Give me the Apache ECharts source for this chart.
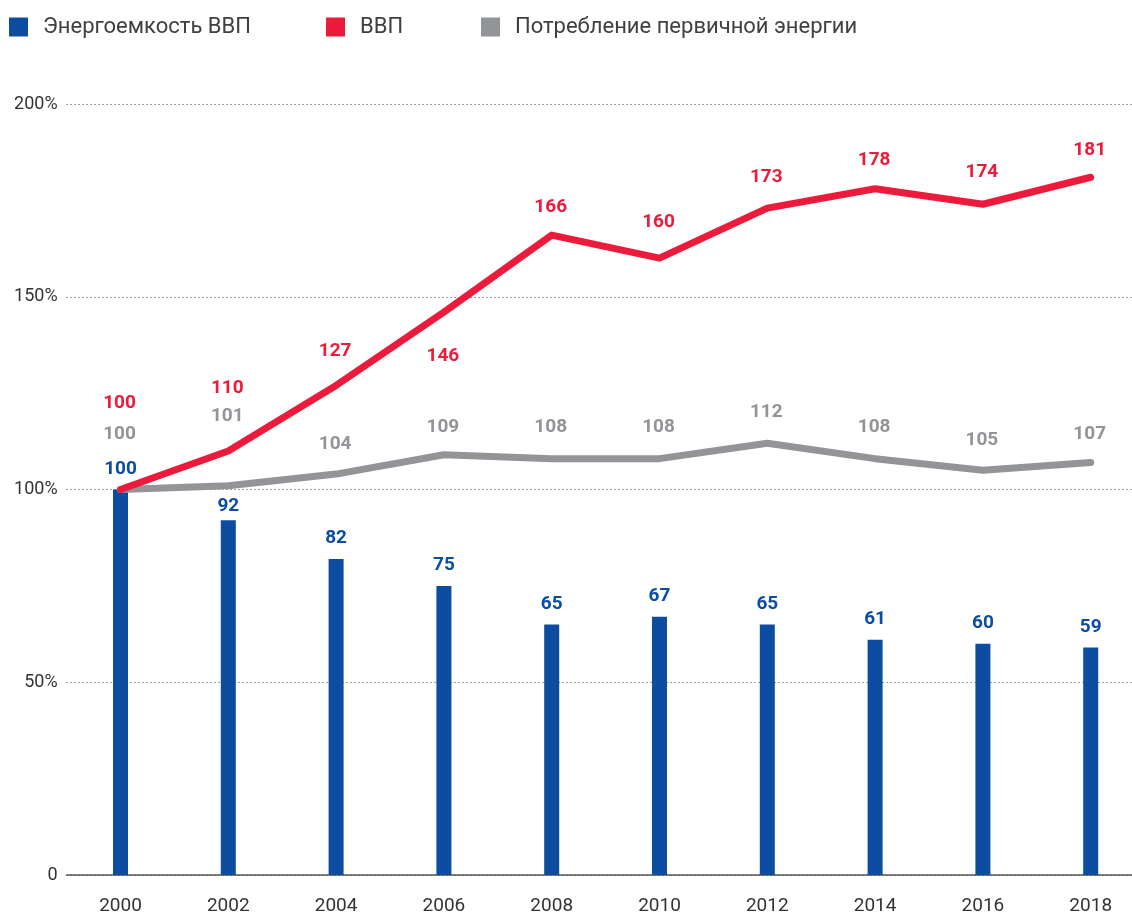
<!DOCTYPE html>
<html>
<head>
<meta charset="utf-8">
<script src="https://cdn.jsdelivr.net/npm/echarts@6/dist/echarts.min.js"></script>
<style>
  html, body { margin: 0; padding: 0; background: #fff; }
  #chart { width: 1132px; height: 913px; }
</style>
</head>
<body>
<div id="chart"></div>
<script>
// данные
var years = ['2000', '2002', '2004', '2006', '2008', '2010', '2012', '2014', '2016', '2018']
var intensity = [100, 92, 82, 75, 65, 67, 65, 61, 60, 59] // Энергоемкость ВВП
var gdp = [100, 110, 127, 146, 166, 160, 173, 178, 174, 181] // ВВП
var energy = [100, 101, 104, 109, 108, 108, 112, 108, 105, 107] // Потребление первичной энергии
var yTicks = [0, 50, 100, 150, 200]

// подъём подписей над точкой (px), чтобы подписи не налезали друг на друга
var gdpLift = [86, 63, 34, -44, 28, 36, 31, 29, 32, 27]
var energyLift = [55, 69, 30, 28, 31, 31, 31, 31, 30, 28]
var barShift = [0, 6, 0, 0, 0, 0, 0, 0, 0, 0]

var BLUE = '#0c4da2'
var RED = '#ed1b3b'
var GRAY = '#939498'
var FONT = 'Roboto'

function withLabels(values, lifts) {
  return values.map(function(v, i) {
    return { value: v, label: { offset: [-1, -lifts[i]] } }
  })
}

function legendItem(name, left) {
  return {
    data: [name],
    left: left,
    top: 16,
    padding: 0,
    itemWidth: 19,
    itemHeight: 19,
    icon: 'rect',
    textStyle: { fontFamily: FONT, fontSize: 22, color: '#404040', padding: [0, 0, 0, 10] }
  }
}

var chart = echarts.init(document.getElementById('chart'))
chart.setOption({
  animation: false,
  legend: [
    legendItem('Энергоемкость ВВП', 9),
    legendItem('ВВП', 326),
    legendItem('Потребление первичной энергии', 481)
  ],
  grid: { left: 66.6, width: 1078, top: 104, bottom: 38, outerBoundsMode: 'none', containLabel: false },
  xAxis: {
    type: 'category',
    data: years,
    boundaryGap: true,
    axisTick: { show: false },
    axisLine: { lineStyle: { color: '#555', width: 1.5 } },
    axisLabel: { fontFamily: FONT, fontSize: 19, color: '#333', margin: 22 }
  },
  yAxis: {
    type: 'value',
    min: yTicks[0],
    max: yTicks[yTicks.length - 1],
    interval: yTicks[1] - yTicks[0],
    axisLine: { show: false },
    axisTick: { show: false },
    axisLabel: {
      fontFamily: FONT, fontSize: 18, color: '#333', margin: 9,
      formatter: function(v) { return v === 0 ? '0' : v + '%' }
    },
    splitLine: { lineStyle: { type: [1, 3], color: '#444', width: 1 } }
  },
  series: [
    {
      name: 'Энергоемкость ВВП',
      type: 'bar',
      data: intensity.map(function(v, i) {
        return { value: v, label: { offset: [0, barShift[i]] } }
      }),
      barWidth: 15,
      itemStyle: { color: BLUE },
      label: {
        show: true, position: 'top', distance: 11,
        fontFamily: FONT, fontSize: 19, fontWeight: 'bold', color: BLUE
      }
    },
    {
      name: 'ВВП',
      type: 'line',
      data: withLabels(gdp, gdpLift),
      symbol: 'circle',
      symbolSize: 1,
      itemStyle: { color: RED },
      lineStyle: { color: RED, width: 7, cap: 'round', join: 'round' },
      label: {
        show: true, position: 'inside',
        fontFamily: FONT, fontSize: 19, fontWeight: 'bold', color: RED
      },
      z: 4
    },
    {
      name: 'Потребление первичной энергии',
      type: 'line',
      data: withLabels(energy, energyLift),
      symbol: 'circle',
      symbolSize: 1,
      itemStyle: { color: GRAY },
      lineStyle: { color: GRAY, width: 7, cap: 'round', join: 'round' },
      label: {
        show: true, position: 'inside',
        fontFamily: FONT, fontSize: 19, fontWeight: 'bold', color: GRAY
      },
      z: 3
    }
  ]
})
</script>
</body>
</html>
